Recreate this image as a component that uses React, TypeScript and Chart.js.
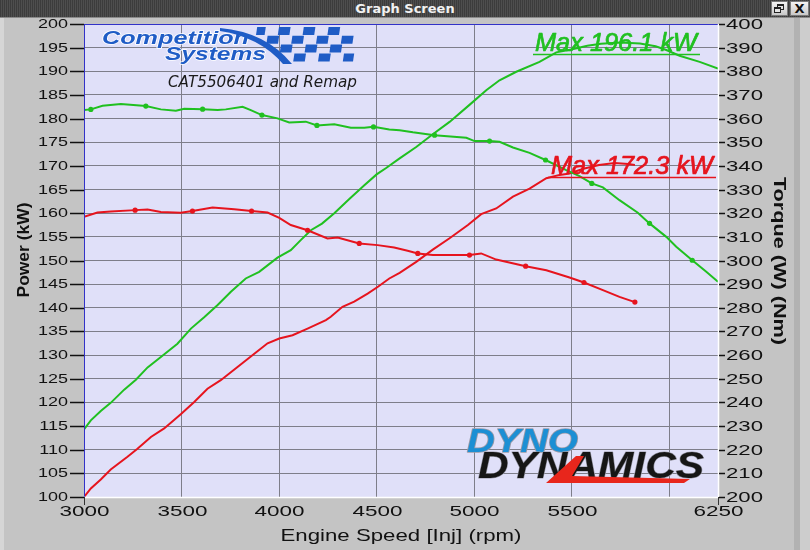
import React, { useEffect, useRef } from 'react';
import { Chart, registerables } from 'chart.js';
Chart.register(...registerables);

// ---------- data ----------
const greenPowerRpm = [3000, 3035, 3086, 3137, 3206, 3266, 3326, 3394, 3479, 3548, 3616, 3685, 3753, 3829, 3898, 3992, 4060, 4111, 4163, 4220, 4283, 4360, 4437, 4500, 4547, 4618, 4703, 4788, 4874, 4976, 5062, 5130, 5216, 5335, 5421, 5498, 5580, 5650, 5750, 5850, 5930, 5985, 6053, 6156, 6250];
const greenPowerKw = [114.3, 116.2, 118.2, 119.9, 122.7, 124.8, 127.4, 129.6, 132.4, 135.6, 138.0, 140.6, 143.4, 146.2, 147.6, 150.6, 152.2, 154.3, 156.4, 157.8, 160.0, 163.0, 165.9, 168.2, 169.5, 171.6, 174.0, 176.7, 179.3, 182.9, 186.0, 188.1, 189.9, 192.0, 194.0, 194.6, 195.4, 195.8, 196.1, 195.9, 195.3, 194.5, 193.3, 192.0, 190.6];

const greenTorqueRpm = [3000, 3035, 3095, 3189, 3317, 3394, 3471, 3514, 3608, 3685, 3727, 3813, 3855, 3912, 3992, 4052, 4137, 4194, 4283, 4368, 4437, 4484, 4565, 4618, 4686, 4797, 4960, 5002, 5079, 5130, 5199, 5284, 5366, 5472, 5540, 5603, 5660, 5745, 5839, 5899, 5985, 6036, 6118, 6190, 6250];
const greenTorqueNm = [363.6, 363.9, 365.4, 366.2, 365.3, 363.9, 363.3, 364.2, 364.0, 363.6, 363.9, 365.0, 363.6, 361.5, 360.1, 358.4, 358.7, 357.1, 357.6, 356.1, 356.1, 356.5, 355.4, 355.1, 354.2, 353.0, 351.9, 350.5, 350.5, 350.2, 347.8, 345.5, 342.5, 338.2, 335.7, 332.6, 330.9, 325.5, 320.2, 315.7, 310.0, 305.8, 300.1, 295.2, 291.0];
const greenTorqueMarks = [3035, 3317, 3608, 3912, 4194, 4484, 4797, 5079, 5366, 5603, 5899, 6118];

const redPowerRpm = [3000, 3035, 3086, 3137, 3223, 3274, 3343, 3411, 3496, 3565, 3633, 3701, 3787, 3873, 3941, 4001, 4069, 4146, 4240, 4265, 4325, 4385, 4454, 4505, 4565, 4618, 4703, 4788, 4874, 4968, 5036, 5113, 5199, 5284, 5370, 5438, 5489, 5560, 5640, 5720, 5790, 5824];
const redPowerKw = [100.0, 101.8, 103.7, 105.8, 108.5, 110.2, 112.7, 114.5, 117.5, 120.1, 122.9, 124.7, 127.5, 130.3, 132.5, 133.5, 134.2, 135.6, 137.4, 138.1, 140.2, 141.3, 143.0, 144.4, 146.2, 147.4, 149.7, 152.3, 154.7, 157.5, 159.8, 161.0, 163.5, 165.2, 167.4, 168.1, 168.4, 169.4, 170.2, 170.6, 170.4, 170.2];

const redTorqueRpm = [3000, 3069, 3137, 3262, 3326, 3394, 3496, 3556, 3659, 3770, 3859, 3941, 4001, 4060, 4146, 4248, 4300, 4411, 4505, 4590, 4659, 4711, 4788, 4976, 5036, 5113, 5264, 5370, 5489, 5563, 5660, 5745, 5824];
const redTorqueNm = [318.5, 320.3, 320.7, 321.3, 321.6, 320.5, 320.2, 320.9, 322.4, 321.7, 320.9, 320.3, 318.0, 315.0, 312.8, 309.3, 309.7, 307.2, 306.5, 305.5, 304.1, 303.0, 302.3, 302.3, 303.0, 300.4, 297.6, 295.9, 292.8, 290.7, 287.5, 284.6, 282.4];
const redTorqueMarks = [3262, 3556, 3859, 4146, 4411, 4711, 4976, 5264, 5563, 5824];

const rpmTicks = [3000, 3500, 4000, 4500, 5000, 5500, 6000, 6250];
const rpmTickLabels = ['3000', '3500', '4000', '4500', '5000', '5500', '', '6250'];
const powerTicks = [100, 105, 110, 115, 120, 125, 130, 135, 140, 145, 150, 155, 160, 165, 170, 175, 180, 185, 190, 195, 200];
const torqueTicks = [200, 210, 220, 230, 240, 250, 260, 270, 280, 290, 300, 310, 320, 330, 340, 350, 360, 370, 380, 390, 400];

const greenMaxLabel = 'Max 196.1 kW';
const redMaxLabel = 'Max 172.3 kW';
const runLabel = 'CAT5506401 and Remap';
const xTitle = 'Engine Speed [Inj] (rpm)';
const leftTitle = 'Power (kW)';
const rightTitle = 'Torque (W) (Nm)';

// ---------- styles ----------
const GREEN = '#20c020';
const RED = '#e6141e';
const GRID = '#7e7e8a';
const PLOT_BG = '#e0e0f9';
const OUTER_BG = '#c4c4c4';
const SANS = '"Liberation Sans", Arial, sans-serif';

function pts(xs: number[], ys: number[]) {
  return xs.map((x, i) => ({ x, y: ys[i] }));
}

function measure(ctx: CanvasRenderingContext2D, font: string, text: string) {
  ctx.save();
  ctx.font = font;
  const w = ctx.measureText(text).width;
  ctx.restore();
  return w;
}

function drawText(
  ctx: CanvasRenderingContext2D,
  text: string,
  x: number,
  y: number,
  font: string,
  o: { width?: number; sx?: number; align?: CanvasTextAlign; baseline?: CanvasTextBaseline; rot?: number; color: string; stroke?: string; strokeWidth?: number; strokeAfter?: boolean }
) {
  ctx.save();
  ctx.font = font;
  const w = ctx.measureText(text).width;
  const sx = o.sx ?? (o.width ? o.width / w : 1);
  ctx.translate(x, y);
  if (o.rot) ctx.rotate(o.rot);
  ctx.scale(sx, 1);
  ctx.textAlign = o.align ?? 'left';
  ctx.textBaseline = o.baseline ?? 'alphabetic';
  ctx.lineWidth = o.strokeWidth ?? 1;
  ctx.lineJoin = 'round';
  if (o.stroke && !o.strokeAfter) {
    ctx.strokeStyle = o.stroke;
    ctx.strokeText(text, 0, 0);
  }
  ctx.fillStyle = o.color;
  ctx.fillText(text, 0, 0);
  if (o.stroke && o.strokeAfter) {
    ctx.strokeStyle = o.stroke;
    ctx.strokeText(text, 0, 0);
  }
  ctx.restore();
}

function line(ctx: CanvasRenderingContext2D, x1: number, y1: number, x2: number, y2: number, color: string, w: number) {
  ctx.save();
  ctx.strokeStyle = color;
  ctx.lineWidth = w;
  ctx.beginPath();
  ctx.moveTo(x1, y1);
  ctx.lineTo(x2, y2);
  ctx.stroke();
  ctx.restore();
}

const decor = {
  id: 'decor',
  beforeDraw(chart: any) {
    const ctx: CanvasRenderingContext2D = chart.ctx;
    const a = chart.chartArea;
    ctx.save();
    ctx.fillStyle = OUTER_BG;
    ctx.fillRect(0, 0, chart.width, chart.height);
    ctx.fillStyle = '#d6d6d6';
    ctx.fillRect(0, 0, 4, chart.height);
    ctx.fillStyle = '#b2b2b2';
    ctx.fillRect(794, 0, 6, chart.height);
    ctx.fillStyle = '#cdcdcd';
    ctx.fillRect(800, 0, 10, chart.height);
    ctx.fillStyle = PLOT_BG;
    ctx.fillRect(a.left, a.top, a.right - a.left, a.bottom - a.top);
    ctx.restore();
  },
  beforeDatasetsDraw(chart: any) {
    const ctx: CanvasRenderingContext2D = chart.ctx;
    // Competition Systems logo
    const blue = '#1f5cc6';
    drawText(ctx, 'Competition', 102, 44, `bold italic 19px ${SANS}`, { width: 147, color: blue, stroke: '#ffffff', strokeWidth: 1.4 });
    drawText(ctx, 'Systems', 165, 60, `bold italic 19px ${SANS}`, { width: 101, color: blue, stroke: '#ffffff', strokeWidth: 1.4 });
    // swoosh
    ctx.save();
    ctx.fillStyle = blue;
    ctx.beginPath();
    ctx.moveTo(220, 28);
    ctx.quadraticCurveTo(266, 32, 292, 64);
    ctx.lineTo(283, 64);
    ctx.quadraticCurveTo(260, 37, 220, 31);
    ctx.closePath();
    ctx.fill();
    // checkered flag
    const cols = 8, rows = 4;
    const cw = 12.4, ch = 8.8;
    for (let r = 0; r < rows; r++) {
      for (let c = 0; c < cols; c++) {
        if ((r + c) % 2 !== 0) continue;
        const x0 = 253 + c * cw + r * 1.0;
        const y0 = 27 + r * ch;
        const minX = 256 + r * 8;
        if (x0 + cw * 0.5 < minX) continue;
        const xs = Math.max(x0, minX);
        const xe = Math.min(x0 + cw - 0.8, 353);
        if (xe - xs <= 1) continue;
        ctx.beginPath();
        ctx.moveTo(xs + 1.2, y0);
        ctx.lineTo(xe + 1.2, y0);
        ctx.lineTo(xe, y0 + ch - 0.8);
        ctx.lineTo(xs, y0 + ch - 0.8);
        ctx.closePath();
        ctx.fill();
      }
    }
    ctx.restore();
    drawText(ctx, runLabel, 168, 87, `italic 15px "DejaVu Sans", sans-serif`, { width: 189, color: '#1a1a1a' });

    // Dyno Dynamics logo
    drawText(ctx, 'DYNO', 467, 452, `bold italic 33px ${SANS}`, { width: 111, color: '#1c8fd4', stroke: '#9a9aa8', strokeWidth: 1.5 });
    drawText(ctx, 'DYNAMICS', 478, 478, `bold italic 36px ${SANS}`, { width: 226, color: '#161616', stroke: '#9a9aa8', strokeWidth: 1 });
    ctx.save();
    ctx.fillStyle = '#e8261c';
    ctx.beginPath();
    ctx.moveTo(546, 483);
    ctx.lineTo(576, 456);
    ctx.lineTo(584, 456);
    ctx.lineTo(572, 476);
    ctx.lineTo(690, 479);
    ctx.lineTo(684, 483);
    ctx.closePath();
    ctx.fill();
    ctx.restore();
  },
  afterDatasetsDraw(chart: any) {
    const ctx: CanvasRenderingContext2D = chart.ctx;
    const a = chart.chartArea;
    const xs = chart.scales.x;
    const yp = chart.scales.yP;
    const yt = chart.scales.yT;

    // plot border
    line(ctx, a.left, a.top + 0.5, a.right, a.top + 0.5, '#3232c8', 1);
    line(ctx, a.left + 0.5, a.top, a.left + 0.5, a.bottom, '#3232c8', 1);
    line(ctx, a.left, a.bottom + 0.5, a.right, a.bottom + 0.5, '#ffffff', 1.5);
    line(ctx, a.right + 0.5, a.top, a.right + 0.5, a.bottom + 1, '#ffffff', 1.5);

    // max labels
    drawText(ctx, greenMaxLabel, 535, 51, `italic 25px ${SANS}`, { width: 162, color: GREEN, stroke: GREEN, strokeWidth: 0.7, strokeAfter: true });
    line(ctx, 533, 54.5, 700, 54.5, GREEN, 1.5);
    drawText(ctx, redMaxLabel, 551, 174, `italic 25px ${SANS}`, { width: 162, color: RED, stroke: RED, strokeWidth: 0.7, strokeAfter: true });
    line(ctx, 548, 177.5, 716, 177.5, RED, 1.5);

    // left axis
    const lf = `13px ${SANS}`;
    const lsx = 30 / measure(ctx, lf, '200');
    powerTicks.forEach((v) => {
      const y = Math.round(yp.getPixelForValue(v)) + 0.5;
      line(ctx, 70, y, a.left, y, '#111', 1.5);
      drawText(ctx, String(v), 68, y, lf, { sx: lsx, align: 'right', baseline: 'middle', color: '#111' });
    });
    // right axis
    const rf = `15px ${SANS}`;
    const rsx = 37 / measure(ctx, rf, '400');
    torqueTicks.forEach((v) => {
      const y = Math.round(yt.getPixelForValue(v)) + 0.5;
      line(ctx, a.right + 1, y, 725, y, '#111', 1.5);
      drawText(ctx, String(v), 726, y, rf, { sx: rsx, align: 'left', baseline: 'middle', color: '#111' });
    });
    // x axis
    const xf = `15px ${SANS}`;
    const xsx = 50 / measure(ctx, xf, '3000');
    rpmTicks.forEach((v, i) => {
      const x = Math.round(xs.getPixelForValue(v)) + 0.5;
      if (i === 0 || i === rpmTicks.length - 1) line(ctx, x, a.bottom, x, a.bottom + 8, '#333', 1);
      const t = rpmTickLabels[i];
      if (t) drawText(ctx, t, x, 512, xf, { sx: xsx, align: 'center', baseline: 'middle', color: '#111' });
    });
    // titles
    drawText(ctx, xTitle, 401, 536, `17px ${SANS}`, { width: 241, align: 'center', baseline: 'middle', color: '#111' });
    drawText(ctx, leftTitle, 24, 250, `bold 17px ${SANS}`, { width: 95, align: 'center', baseline: 'middle', rot: -Math.PI / 2, color: '#111' });
    drawText(ctx, rightTitle, 779, 261, `bold 17px ${SANS}`, { width: 168, align: 'center', baseline: 'middle', rot: Math.PI / 2, color: '#111' });
  },
};

function markRadius(marks: number[]) {
  return (c: any) => (c.raw && marks.includes(c.raw.x) ? 2.6 : 0);
}

export default function App() {
  const ref = useRef<HTMLCanvasElement>(null);
  useEffect(() => {
    const canvas = ref.current!;
    const base = { pointRadius: 0, pointHoverRadius: 0, borderWidth: 2, tension: 0, fill: false };
    const chart = new Chart(canvas, {
      type: 'line',
      data: {
        datasets: [
          { ...base, label: 'Torque A', data: pts(greenTorqueRpm, greenTorqueNm), yAxisID: 'yT', borderColor: GREEN, pointBackgroundColor: GREEN, pointBorderWidth: 0, pointRadius: markRadius(greenTorqueMarks) },
          { ...base, label: 'Torque B', data: pts(redTorqueRpm, redTorqueNm), yAxisID: 'yT', borderColor: RED, pointBackgroundColor: RED, pointBorderWidth: 0, pointRadius: markRadius(redTorqueMarks) },
          { ...base, label: 'Power A', data: pts(greenPowerRpm, greenPowerKw), yAxisID: 'yP', borderColor: GREEN },
          { ...base, label: 'Power B', data: pts(redPowerRpm, redPowerKw), yAxisID: 'yP', borderColor: RED },
        ] as any,
      },
      options: {
        animation: false,
        responsive: false,
        maintainAspectRatio: false,
        devicePixelRatio: 1,
        events: [],
        layout: { padding: { top: 24, left: 0, right: 0, bottom: 0 } },
        plugins: { legend: { display: false }, tooltip: { enabled: false }, title: { display: false } },
        scales: {
          x: {
            type: 'linear',
            min: 3000,
            max: 6250,
            afterBuildTicks: (s: any) => { s.ticks = rpmTicks.map((v) => ({ value: v })); },
            afterFit: (s: any) => { s.height = 53; },
            ticks: { display: false },
            grid: { color: GRID, lineWidth: 1, drawTicks: false },
            border: { display: false },
          },
          yP: {
            type: 'linear',
            position: 'left',
            min: 100,
            max: 200,
            afterBuildTicks: (s: any) => { s.ticks = powerTicks.map((v) => ({ value: v })); },
            afterFit: (s: any) => { s.width = 84; },
            ticks: { display: false },
            grid: { color: GRID, lineWidth: 1, drawTicks: false },
            border: { display: false },
          },
          yT: {
            type: 'linear',
            position: 'right',
            min: 200,
            max: 400,
            afterBuildTicks: (s: any) => { s.ticks = torqueTicks.map((v) => ({ value: v })); },
            afterFit: (s: any) => { s.width = 92; },
            ticks: { display: false },
            grid: { drawOnChartArea: false, drawTicks: false },
            border: { display: false },
          },
        },
      } as any,
      plugins: [decor],
    });
    return () => chart.destroy();
  }, []);

  const btn: React.CSSProperties = {
    position: 'absolute', top: 1, width: 17, height: 15, background: 'linear-gradient(#f4f4f4,#c8c8c8)',
    border: '1px solid #7a7a7a', boxSizing: 'border-box', color: '#111', fontFamily: '"DejaVu Sans", sans-serif',
    fontWeight: 'bold', fontSize: 13, lineHeight: '13px', textAlign: 'center',
  };

  return (
    <div style={{ position: 'absolute', left: 0, top: 0, width: 810, height: 550, overflow: 'hidden', background: OUTER_BG }}>
      <canvas ref={ref} width={810} height={550} style={{ position: 'absolute', left: 0, top: 0, width: 810, height: 550 }} />
      <div
        style={{
          position: 'absolute', left: 0, top: 0, width: 810, height: 17,
          background: 'repeating-linear-gradient(90deg, #3c3c3c 0px, #3c3c3c 1px, #4e4e4e 1px, #4e4e4e 2px), #444',
          borderBottom: '1px solid #8a8a8a',
        }}
      >
        <div
          style={{
            position: 'absolute', left: 0, top: 0, width: 810, height: 17, textAlign: 'center',
            color: '#f2f2f2', fontFamily: '"DejaVu Sans", sans-serif', fontWeight: 'bold', fontSize: 13, lineHeight: '18px',
          }}
        >
          Graph Screen
        </div>
        <div style={{ ...btn, left: 771 }}>
          <div style={{ position: 'absolute', left: 5, top: 2, width: 7, height: 6, border: '1px solid #222', borderTopWidth: 2, boxSizing: 'border-box' }} />
          <div style={{ position: 'absolute', left: 2, top: 5, width: 7, height: 6, border: '1px solid #222', borderTopWidth: 2, boxSizing: 'border-box', background: '#e4e4e4' }} />
        </div>
        <div style={{ ...btn, left: 790, width: 19 }}>X</div>
      </div>
    </div>
  );
}
